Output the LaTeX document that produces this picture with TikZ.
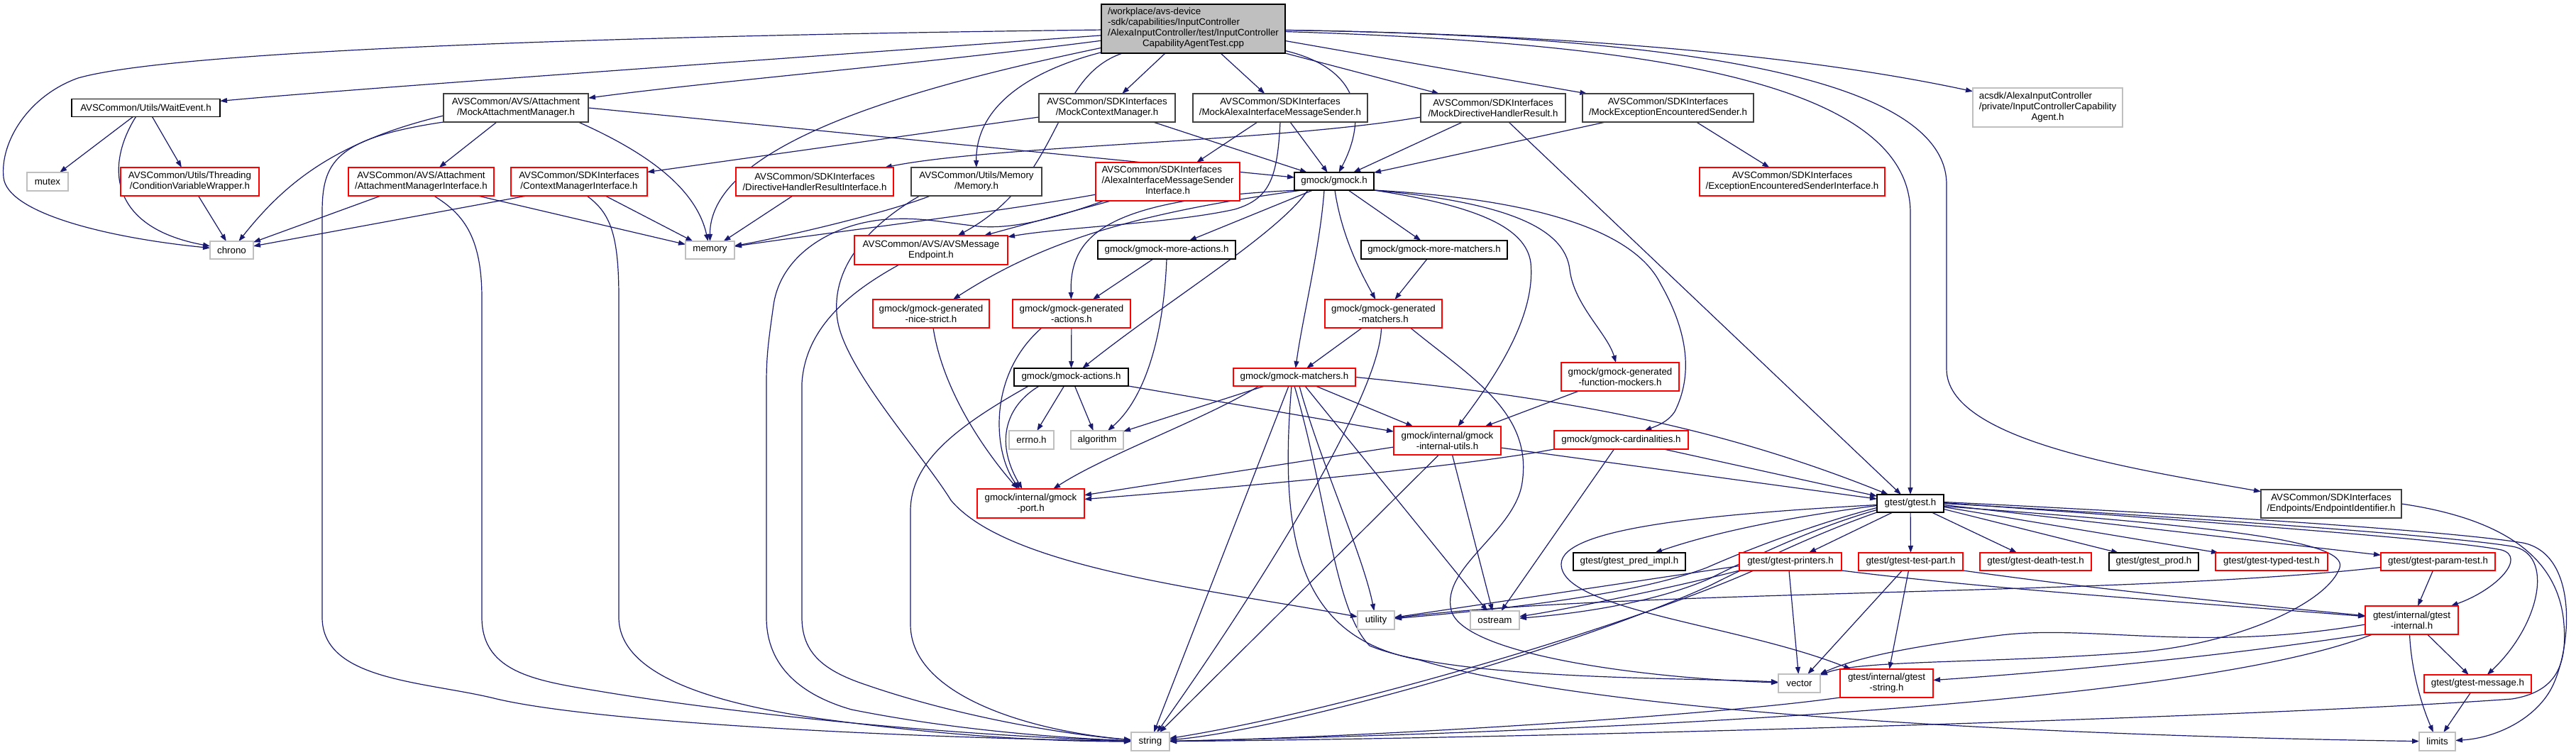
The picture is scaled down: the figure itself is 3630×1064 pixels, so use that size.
\documentclass[tikz,border=0pt]{standalone}
\usepackage{fontspec}
\setmainfont{Liberation Sans}
\usetikzlibrary{arrows.meta}
\definecolor{edgecol}{HTML}{191970}
\definecolor{grayb}{HTML}{BFBFBF}
\definecolor{mainfill}{HTML}{BFBFBF}
\definecolor{darkb}{HTML}{404040}
\pgfdeclarelayer{bg}
\pgfsetlayers{bg,main}
\newcommand\nodefont{\fontsize{13.33}{15}\selectfont}
\newcommand\dnode[7]{\node[#1,minimum width=#5pt,minimum height=#6pt] (#2) at (#3,#4) {#7};}
\tikzset{
  nd/.style={rectangle, inner sep=0pt, outer sep=0pt, font=\nodefont, align=center, fill=white, line width=1.3pt},
  blk/.style={nd, draw=black},
  dkb/.style={nd, draw=darkb, line width=1.6pt},
  rd/.style={nd, draw=red},
  gr/.style={nd, draw=grayb},
  mainnode/.style={nd, draw=black, fill=mainfill},
  dep/.style={draw=edgecol, line width=1.2pt, -{Triangle[length=10pt,width=7pt]}},
}
\begin{document}
\begin{tikzpicture}[x=1pt,y=-1pt]
\useasboundingbox (0,0) rectangle (3630,1064);
% ---------------- nodes ----------------
\dnode{mainnode}{main}{1681.5}{40.5}{259}{69}{\begin{tabular}{@{}l@{}}/workplace/avs-device\\-sdk/capabilities/InputController\\/AlexaInputController/test/InputController\\\multicolumn{1}{@{}c@{}}{CapabilityAgentTest.cpp}\end{tabular}}
\dnode{blk}{waitevent}{205.5}{152}{209}{25}{AVSCommon/Utils/WaitEvent.h}
\dnode{dkb}{mockattach}{727}{152}{204}{40}{AVSCommon/AVS/Attachment\\/MockAttachmentManager.h}
\dnode{dkb}{mockctx}{1560}{152}{192}{40}{AVSCommon/SDKInterfaces\\/MockContextManager.h}
\dnode{dkb}{mockalexa}{1804}{152}{246}{40}{AVSCommon/SDKInterfaces\\/MockAlexaInterfaceMessageSender.h}
\dnode{dkb}{mockdir}{2104}{152}{204}{40}{AVSCommon/SDKInterfaces\\/MockDirectiveHandlerResult.h}
\dnode{dkb}{mockexc}{2350.5}{152}{241}{40}{AVSCommon/SDKInterfaces\\/MockExceptionEncounteredSender.h}
\dnode{gr}{acsdk}{2885.5}{151.5}{211}{55}{\begin{tabular}{@{}l@{}}acsdk/AlexaInputController\\/private/InputControllerCapability\\\multicolumn{1}{@{}c@{}}{Agent.h}\end{tabular}}
\dnode{gr}{mutex}{67}{256}{58}{26}{mutex}
\dnode{rd}{condvar}{267.5}{256}{195}{40}{AVSCommon/Utils/Threading\\/ConditionVariableWrapper.h}
\dnode{rd}{attachif}{593.5}{256}{205}{40}{AVSCommon/AVS/Attachment\\/AttachmentManagerInterface.h}
\dnode{rd}{ctxif}{816}{256}{192}{40}{AVSCommon/SDKInterfaces\\/ContextManagerInterface.h}
\dnode{rd}{dirif}{1148}{256}{222}{40}{AVSCommon/SDKInterfaces\\/DirectiveHandlerResultInterface.h}
\dnode{dkb}{memoryh}{1376}{256}{184}{40}{AVSCommon/Utils/Memory\\/Memory.h}
\dnode{rd}{alexaif}{1645.5}{256}{203}{54}{\begin{tabular}{@{}l@{}}AVSCommon/SDKInterfaces\\/AlexaInterfaceMessageSender\\\multicolumn{1}{@{}c@{}}{Interface.h}\end{tabular}}
\dnode{blk}{gmock}{1880}{255.5}{112}{25}{gmock/gmock.h}
\dnode{rd}{excif}{2525.5}{256}{261}{40}{AVSCommon/SDKInterfaces\\/ExceptionEncounteredSenderInterface.h}
\dnode{gr}{chrono}{326.5}{352.5}{61}{25}{chrono}
\dnode{gr}{memory}{1000.5}{352.5}{69}{25}{memory}
\dnode{rd}{avsmsg}{1312}{352.5}{216}{41}{AVSCommon/AVS/AVSMessage\\Endpoint.h}
\dnode{blk}{moreactions}{1644}{352}{194}{26}{gmock/gmock-more-actions.h}
\dnode{blk}{morematchers}{2021}{352}{206}{26}{gmock/gmock-more-matchers.h}
\dnode{rd}{nicestrict}{1312}{442}{164}{40}{gmock/gmock-generated\\-nice-strict.h}
\dnode{rd}{genactions}{1510}{442}{166}{40}{gmock/gmock-generated\\-actions.h}
\dnode{rd}{genmatchers}{1949.5}{442}{165}{40}{gmock/gmock-generated\\-matchers.h}
\dnode{blk}{actions}{1509.5}{531.5}{161}{25}{gmock/gmock-actions.h}
\dnode{rd}{matchers}{1824}{531.5}{172}{25}{gmock/gmock-matchers.h}
\dnode{rd}{funcmockers}{2283}{531}{166}{40}{gmock/gmock-generated\\-function-mockers.h}
\dnode{gr}{errno}{1453.5}{620}{63}{26}{errno.h}
\dnode{gr}{algorithm}{1546}{620}{74}{26}{algorithm}
\dnode{rd}{intutils}{2039.5}{621}{151}{40}{gmock/internal/gmock\\-internal-utils.h}
\dnode{rd}{cardinalities}{2284.5}{620}{189}{26}{gmock/gmock-cardinalities.h}
\dnode{rd}{port}{1452.5}{709.5}{151}{41}{gmock/internal/gmock\\-port.h}
\dnode{dkb}{endpoints}{3285}{710}{198}{40}{AVSCommon/SDKInterfaces\\/Endpoints/EndpointIdentifier.h}
\dnode{blk}{gtest}{2692}{709.5}{94}{25}{gtest/gtest.h}
\dnode{blk}{predimpl}{2296}{791.5}{158}{25}{gtest/gtest\_pred\_impl.h}
\dnode{rd}{printers}{2523}{791.5}{144}{25}{gtest/gtest-printers.h}
\dnode{rd}{testpart}{2692.5}{791.5}{147}{25}{gtest/gtest-test-part.h}
\dnode{rd}{deathtest}{2868.5}{791.5}{157}{25}{gtest/gtest-death-test.h}
\dnode{blk}{prod}{3035}{791.5}{126}{25}{gtest/gtest\_prod.h}
\dnode{rd}{typedtest}{3201}{791.5}{158}{25}{gtest/gtest-typed-test.h}
\dnode{rd}{paramtest}{3435.5}{791.5}{161}{25}{gtest/gtest-param-test.h}
\dnode{rd}{gtinternal}{3398.5}{874}{131}{40}{gtest/internal/gtest\\-internal.h}
\dnode{gr}{utility}{1939}{874}{52}{26}{utility}
\dnode{gr}{ostream}{2106.5}{874}{69}{26}{ostream}
\dnode{gr}{vector}{2535.5}{963}{59}{26}{vector}
\dnode{rd}{gtstring}{2658.5}{963}{131}{40}{gtest/internal/gtest\\-string.h}
\dnode{rd}{message}{3491.5}{963.5}{151}{25}{gtest/gtest-message.h}
\dnode{gr}{string}{1621}{1045}{54}{26}{string}
\dnode{gr}{limits}{3434.5}{1045}{51}{26}{limits}
% ---------------- edges ----------------
\begin{pgfonlayer}{bg}
\fill[white] (0,0) rectangle (3630,1064);
% main
\draw[dep] (main) .. controls (900,50) and (250,70) .. (110,110) .. controls (40,135) and (0,200) .. (5,250) .. controls (10,300) and (150,335) .. (chrono);
\draw[dep] (main) .. controls (1000,90) and (500,125) .. (waitevent);
\draw[dep] (main) .. controls (1300,90) and (1000,115) .. (mockattach);
\draw[dep] (main) .. controls (1300,120) and (1000,200) .. (memory);
\draw[dep] (main) .. controls (1450,100) and (1375,150) .. (memoryh);
\draw[dep] (main) .. controls (1480,110) and (1500,250) .. (avsmsg);
\draw[dep] ([xshift=90pt]main.south west) -- (mockctx);
\draw[dep] ([xshift=168pt]main.south west) -- (mockalexa);
\draw[dep] (main) .. controls (1930,100) and (1920,180) .. (gmock);
\draw[dep] (main.south east) -- (mockdir);
\draw[dep] ([yshift=-17pt]main.east) -- (mockexc);
\draw[dep] (main) .. controls (2300,60) and (2692,110) .. (2692,300) -- (gtest);
\draw[dep] (main) .. controls (2320,50) and (2743,100) .. (2743,260) -- (2743,520) .. controls (2743,620) and (3000,660) .. (endpoints);
\draw[dep] (main) .. controls (2300,50) and (2600,90) .. (acsdk);
% WaitEvent
\draw[dep] ([xshift=-18pt]waitevent.south) -- (mutex);
\draw[dep] ([xshift=-14pt]waitevent.south) .. controls (150,230) and (150,320) .. (chrono);
\draw[dep] ([xshift=9pt]waitevent.south) -- (condvar);
\draw[dep] ([xshift=12pt]condvar.south) -- (chrono);
% MockAttachmentManager
\draw[dep] ([yshift=-11pt]mockattach.west) .. controls (470,200) and (400,260) .. (chrono);
\draw[dep] (mockattach.south west) .. controls (470,195) and (454,230) .. (454,300) -- (454,870) .. controls (454,960) and (600,960) .. (700,985) .. controls (850,1020) and (1300,1040) .. (string);
\draw[dep] ([xshift=-27pt]mockattach.south) -- (attachif);
\draw[dep] ([xshift=88pt]mockattach.south) .. controls (900,210) and (980,260) .. (memory);
\draw[dep] (mockattach.east) -- (gmock);
% AttachmentManagerInterface
\draw[dep] ([xshift=-57pt]attachif.south) -- (chrono);
\draw[dep] ([xshift=80pt]attachif.south) -- (memory);
\draw[dep] ([xshift=18pt]attachif.south) .. controls (650,300) and (679,330) .. (679,420) -- (679,870) .. controls (679,950) and (760,960) .. (850,975) .. controls (1000,1000) and (1300,1035) .. (string);
% ContextManagerInterface
\draw[dep] ([xshift=-74pt]ctxif.south) -- (chrono);
\draw[dep] ([xshift=37pt]ctxif.south) -- (memory);
\draw[dep] ([xshift=11pt]ctxif.south) .. controls (860,300) and (872,330) .. (872,420) -- (872,870) .. controls (872,950) and (1000,990) .. (1150,1012) .. controls (1350,1040) and (1500,1045) .. (string);
% DirectiveHandlerResultInterface
\draw[dep] ([xshift=-31pt]dirif.south) -- (memory);
% Memory.h
\draw[dep] ([xshift=-65pt]memoryh.south) .. controls (1250,300) and (1100,335) .. (memory);
\draw[dep] ([xshift=-80pt]memoryh.south) .. controls (1220,320) and (1170,380) .. (1180,450) .. controls (1190,520) and (1300,640) .. (1340,705) .. controls (1420,800) and (1700,830) .. (utility);
% AlexaInterfaceMessageSenderInterface
\draw[dep] (alexaif) .. controls (1400,300) and (1150,330) .. (memory);
\draw[dep] ([xshift=-80pt]alexaif.south) -- (avsmsg);
\draw[dep] ([xshift=-90pt]alexaif.south) .. controls (1480,310) and (1420,325) .. (1370,318) .. controls (1320,312) and (1290,305) .. (1240,310) .. controls (1170,318) and (1100,360) .. (1090,430) .. controls (1083,480) and (1080,500) .. (1080,540) -- (1080,870) .. controls (1080,940) and (1130,980) .. (1200,1000) .. controls (1350,1030) and (1500,1040) .. (string);
% AVSMessageEndpoint
\draw[dep] ([xshift=-45pt]avsmsg.south) .. controls (1200,410) and (1135,460) .. (1130,540) -- (1130,870) .. controls (1130,920) and (1160,945) .. (1220,965) .. controls (1350,1010) and (1500,1035) .. (string);
% MockContextManager
\draw[dep] ([yshift=-13pt]mockctx.west) -- (ctxif);
\draw[dep] ([xshift=65pt]mockctx.south) -- (gmock);
% MockAlexaInterfaceMessageSender
\draw[dep] ([xshift=-32pt]mockalexa.south) -- (alexaif);
\draw[dep] ([xshift=14pt]mockalexa.south) -- (gmock);
\draw[dep] (mockalexa.south) .. controls (1800,250) and (1790,280) .. (1740,295) .. controls (1650,315) and (1500,320) .. (avsmsg);
% MockDirectiveHandlerResult
\draw[dep] ([yshift=-13pt]mockdir.west) .. controls (1800,200) and (1400,205) .. (dirif);
\draw[dep] ([xshift=-43pt]mockdir.south) -- (gmock);
\draw[dep] ([xshift=22pt]mockdir.south) -- (gtest);
% MockExceptionEncounteredSender
\draw[dep] ([xshift=40pt]mockexc.south) -- (excif);
\draw[dep] ([xshift=-88pt]mockexc.south) -- (gmock);
% gmock.h
\draw[dep] ([xshift=-30pt]gmock.south) -- (moreactions);
\draw[dep] ([xshift=20pt]gmock.south) -- (morematchers);
\draw[dep] ([xshift=1pt]gmock.south) .. controls (1890,330) and (1915,380) .. (genmatchers);
\draw[dep] ([xshift=-14pt]gmock.south) .. controls (1860,350) and (1835,450) .. (matchers);
\draw[dep] ([xshift=-37pt]gmock.south) .. controls (1800,330) and (1650,420) .. (actions);
\draw[dep] ([xshift=-45pt]gmock.south) .. controls (1600,300) and (1470,340) .. (nicestrict);
\draw[dep] ([xshift=-50pt]gmock.south) .. controls (1560,280) and (1507,330) .. (genactions);
\draw[dep] (gmock.south east) .. controls (2080,290) and (2150,320) .. (2157,370) .. controls (2165,450) and (2100,540) .. (intutils);
\draw[dep] (gmock.south east) .. controls (2120,285) and (2205,320) .. (2212,380) .. controls (2218,430) and (2265,470) .. (funcmockers);
\draw[dep] (gmock.south east) .. controls (2150,280) and (2300,320) .. (2340,400) .. controls (2380,470) and (2385,530) .. (2360,580) .. controls (2350,595) and (2335,600) .. (cardinalities);
% gmock-more-*
\draw[dep] ([xshift=-19pt]moreactions.south) -- (genactions);
\draw[dep] (moreactions.south) .. controls (1640,470) and (1615,560) .. (algorithm);
\draw[dep] ([xshift=-10pt]morematchers.south) -- (genmatchers);
% gmock-generated-*
\draw[dep] ([xshift=3pt]nicestrict.south) .. controls (1330,560) and (1400,650) .. (port);
\draw[dep] (genactions) -- (actions);
\draw[dep] ([xshift=-42pt]genactions.south) .. controls (1390,530) and (1400,640) .. (port);
\draw[dep] ([xshift=-30pt]genmatchers.south) -- (matchers);
\draw[dep] ([xshift=-3pt]genmatchers.south) .. controls (1945,560) and (1760,850) .. (string);
\draw[dep] ([xshift=38pt]genmatchers.south) .. controls (2070,530) and (2160,580) .. (2145,680) .. controls (2135,750) and (2030,800) .. (2045,860) .. controls (2060,920) and (2300,955) .. (vector);
% gmock-actions
\draw[dep] ([xshift=-10pt]actions.south) -- (errno);
\draw[dep] ([xshift=5pt]actions.south) -- (algorithm);
\draw[dep] (actions.south east) -- (intutils);
\draw[dep] ([xshift=-45pt]actions.south) .. controls (1420,570) and (1400,620) .. (port);
\draw[dep] ([xshift=-60pt]actions.south) .. controls (1350,600) and (1283,650) .. (1283,720) -- (1283,880) .. controls (1283,980) and (1450,1030) .. (string);
% gmock-matchers
\draw[dep] ([xshift=-42pt]matchers.south) -- (algorithm);
\draw[dep] ([xshift=30pt]matchers.south) -- (intutils);
\draw[dep] ([xshift=-50pt]matchers.south) .. controls (1700,590) and (1560,640) .. (port);
\draw[dep] (matchers.east) .. controls (2200,560) and (2420,600) .. (gtest);
\draw[dep] ([xshift=-8pt]matchers.south) -- (string);
\draw[dep] ([xshift=7pt]matchers.south) .. controls (1860,650) and (1920,780) .. (utility);
\draw[dep] ([xshift=15pt]matchers.south) -- (ostream);
\draw[dep] (matchers.south) .. controls (1870,700) and (1880,860) .. (1930,910) .. controls (2050,960) and (2400,955) .. (vector);
\draw[dep] ([xshift=-4pt]matchers.south) .. controls (1800,780) and (1840,900) .. (2000,930) .. controls (2300,1020) and (3100,1040) .. (limits);
% gmock-internal-utils
\draw[dep] ([yshift=-9pt]intutils.west) -- (port);
\draw[dep] ([yshift=-10pt]intutils.east) -- (gtest);
\draw[dep] ([xshift=-12pt]intutils.south) -- (string);
\draw[dep] ([xshift=7pt]intutils.south) -- (ostream);
% function mockers, cardinalities
\draw[dep] ([xshift=-58pt]funcmockers.south) -- (intutils);
\draw[dep] (cardinalities.south west) .. controls (2050,660) and (1700,690) .. (port);
\draw[dep] ([xshift=-10pt]cardinalities.south) -- (ostream);
\draw[dep] ([xshift=60pt]cardinalities.south) -- (gtest);
% gtest.h
\draw[dep] ([yshift=-3pt]gtest.west) .. controls (2550,725) and (2430,745) .. (predimpl);
\draw[dep] ([yshift=-2pt]gtest.west) .. controls (2400,725) and (2200,745) .. (2200,795) .. controls (2200,860) and (2450,880) .. (gtstring);
\draw[dep] ([yshift=-6pt]gtest.west) .. controls (2550,740) and (2450,780) .. (2405,800) .. controls (2300,840) and (2100,860) .. (utility);
\draw[dep] ([yshift=-9pt]gtest.west) .. controls (2550,745) and (2450,795) .. (2410,815) .. controls (2330,850) and (2220,865) .. (ostream);
\draw[dep] (gtest.south west) .. controls (2550,755) and (2450,805) .. (2410,825) .. controls (2200,920) and (1800,1030) .. (string);
\draw[dep] ([xshift=-25pt]gtest.south) -- (printers);
\draw[dep] (gtest) -- (testpart);
\draw[dep] ([xshift=30pt]gtest.south) -- (deathtest);
\draw[dep] ([yshift=-8pt]gtest.east) -- (prod);
\draw[dep] ([yshift=-5pt]gtest.east) -- (typedtest);
\draw[dep] ([yshift=-2pt]gtest.east) -- (paramtest);
\draw[dep] ([yshift=-4pt]gtest.east) .. controls (3100,740) and (3310,760) .. (3297,800) .. controls (3280,850) and (3150,910) .. (3000,920) .. controls (2800,935) and (2620,930) .. (vector);
\draw[dep] ([yshift=1pt]gtest.east) .. controls (3100,735) and (3450,760) .. (3525,775) .. controls (3560,785) and (3520,830) .. (gtinternal);
\draw[dep] (gtest.east) .. controls (3100,730) and (3450,755) .. (3540,770) .. controls (3600,780) and (3580,880) .. (message);
\draw[dep] ([yshift=2pt]gtest.east) .. controls (3100,725) and (3450,748) .. (3555,765) .. controls (3630,780) and (3625,900) .. (3600,960) .. controls (3580,1010) and (3520,1040) .. (limits);
% Endpoints
\draw[dep] (endpoints.east) .. controls (3520,730) and (3600,780) .. (3612,870) .. controls (3620,940) and (3600,975) .. (3540,985) .. controls (3200,1010) and (2200,1040) .. (string);
% gtest-printers
\draw[dep] ([xshift=-2pt]printers.south) -- (vector);
\draw[dep] (printers.south east) .. controls (2800,830) and (3100,850) .. (gtinternal);
\draw[dep] ([yshift=-6pt]printers.west) .. controls (2300,820) and (2100,850) .. (utility);
\draw[dep] (printers.south west) .. controls (2350,830) and (2200,860) .. (ostream);
\draw[dep] ([xshift=20pt]printers.south west) .. controls (2300,880) and (1900,1000) .. (string);
% gtest-test-part
\draw[dep] ([xshift=-12pt]testpart.south) -- (vector);
\draw[dep] ([xshift=-3pt]testpart.south) -- (gtstring);
\draw[dep] (testpart.south east) .. controls (2950,830) and (3150,850) .. (gtinternal);
% gtest-param-test
\draw[dep] ([yshift=-8pt]paramtest.west) .. controls (3000,840) and (2300,830) .. (utility);
\draw[dep] ([xshift=-7pt]paramtest.south) -- (gtinternal);
% gtest-internal
\draw[dep] ([yshift=-6pt]gtinternal.west) .. controls (3100,920) and (2950,880) .. (2820,895) .. controls (2700,910) and (2620,925) .. (vector);
\draw[dep] (gtinternal.south west) .. controls (3100,930) and (2850,950) .. (gtstring);
\draw[dep] ([xshift=10pt]gtinternal.south west) .. controls (3100,990) and (2300,1030) .. (string);
\draw[dep] ([xshift=-3pt]gtinternal.south) .. controls (3398,950) and (3415,1000) .. (limits);
\draw[dep] ([xshift=22pt]gtinternal.south) -- (message);
% gtest-message, gtest-string
\draw[dep] ([xshift=-10pt]message.south) -- (limits);
\draw[dep] (gtstring.south west) .. controls (2400,1010) and (1900,1040) .. (string);
\end{pgfonlayer}
\end{tikzpicture}
\end{document}
